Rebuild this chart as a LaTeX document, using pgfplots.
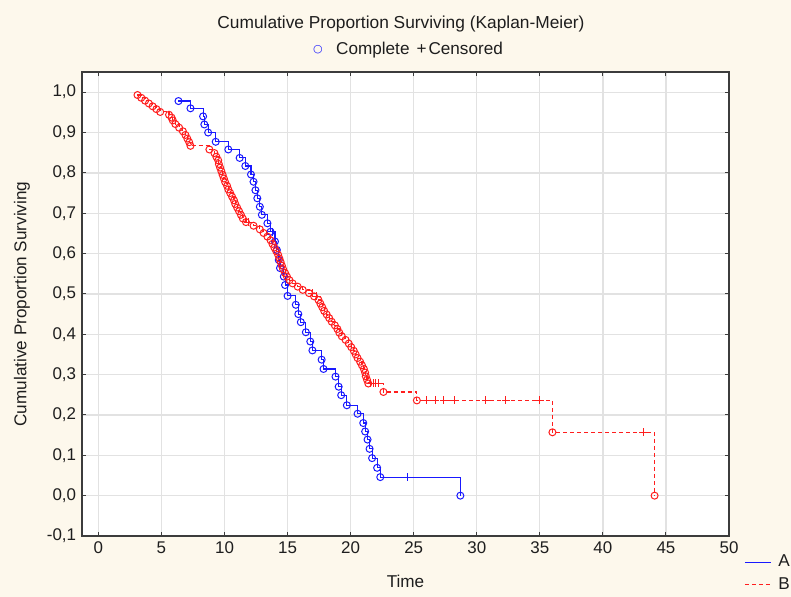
\documentclass[border=0pt]{standalone}
\usepackage{fontspec}
\setmainfont{Liberation Sans}
\newfontfamily\dejavu{DejaVu Sans}
\usepackage{pgfplots}
\usepackage{pgfplotstable}
\pgfplotsset{compat=1.18}
\definecolor{bgcream}{RGB}{253,248,236}
\definecolor{kmblue}{RGB}{25,25,255}
\definecolor{kmred}{RGB}{255,30,30}
\definecolor{gridgray}{RGB}{226,226,226}
\definecolor{framegray}{RGB}{60,60,60}
\definecolor{txt}{RGB}{30,30,30}

\pgfplotstableread{
x y t
6.35 0.978 e
7.3 0.960 e
8.3 0.940 e
8.4 0.920 e
8.7 0.900 e
9.3 0.877 e
10.3 0.858 e
11.2 0.837 e
11.65 0.817 e
12.1 0.796 e
12.3 0.778 e
12.45 0.757 e
12.6 0.737 e
12.8 0.716 e
12.96 0.696 e
13.4 0.675 e
13.65 0.654 e
13.8 0.654 c
14.0 0.630 e
14.15 0.609 e
14.3 0.584 e
14.4 0.564 e
14.7 0.543 e
14.8 0.522 e
15.0 0.495 e
15.65 0.473 e
15.85 0.450 e
16.05 0.430 e
16.45 0.405 e
16.8 0.382 e
16.97 0.360 e
17.7 0.337 e
17.85 0.314 e
18.8 0.295 e
19.05 0.270 e
19.25 0.249 e
19.7 0.224 e
20.55 0.203 e
21.0 0.180 e
21.15 0.159 e
21.34 0.139 e
21.5 0.116 e
21.7 0.093 e
22.1 0.069 e
22.35 0.046 e
24.5 0.046 c
28.7 0.000 e
}\dataA

\pgfplotstableread{
x y t
3.1 0.993 e
3.4 0.986 e
3.7 0.979 e
4.0 0.972 e
4.3 0.965 e
4.6 0.958 e
4.9 0.951 e
5.6 0.944 e
5.8 0.937 e
5.9 0.930 e
6.1 0.921 e
6.4 0.912 e
6.7 0.903 e
6.9 0.894 e
7.05 0.885 e
7.2 0.876 e
7.3 0.867 e
8.8 0.858 e
9.2 0.849 e
9.35 0.840 e
9.5 0.831 e
9.55 0.822 e
9.65 0.813 e
9.75 0.804 e
9.85 0.795 e
9.95 0.786 e
10.05 0.777 e
10.2 0.768 e
10.3 0.759 e
10.45 0.750 e
10.6 0.741 e
10.75 0.732 e
10.85 0.723 e
11.0 0.714 e
11.15 0.705 e
11.3 0.696 e
11.45 0.687 e
11.7 0.678 e
11.9 0.678 c
12.3 0.669 e
12.8 0.660 e
13.1 0.651 e
13.4 0.642 e
13.65 0.633 e
13.8 0.624 e
13.95 0.615 e
14.1 0.606 e
14.25 0.597 e
14.35 0.588 e
14.45 0.579 e
14.55 0.570 e
14.65 0.561 e
14.8 0.552 e
14.95 0.543 e
15.15 0.534 e
15.4 0.526 e
15.8 0.518 e
16.2 0.510 e
16.7 0.502 e
16.95 0.502 c
17.1 0.494 e
17.3 0.494 c
17.45 0.485 e
17.6 0.476 e
17.75 0.467 e
17.9 0.458 e
18.1 0.449 e
18.3 0.440 e
18.5 0.431 e
18.75 0.422 e
18.95 0.413 e
19.1 0.404 e
19.3 0.395 e
19.6 0.386 e
19.85 0.377 e
20.05 0.368 e
20.25 0.359 e
20.4 0.350 e
20.55 0.341 e
20.75 0.332 e
20.9 0.323 e
21.05 0.314 e
21.15 0.305 e
21.2 0.296 e
21.3 0.287 e
21.4 0.278 e
21.6 0.278 c
21.8 0.278 c
22.0 0.278 c
22.2 0.278 c
22.6 0.257 e
25.25 0.236 e
26.0 0.236 c
26.7 0.236 c
27.4 0.236 c
28.2 0.236 c
30.7 0.236 c
32.3 0.236 c
35.0 0.236 c
36.0 0.157 e
43.2 0.157 c
44.1 0.000 e
}\dataB

\begin{document}
\fontsize{17.2}{19.5}\selectfont
\begin{tikzpicture}
\useasboundingbox (0,0) rectangle (791bp,597bp);
\fill[bgcream] (0,0) rectangle (791bp,597bp);
\begin{axis}[
  at={(82bp,61bp)}, anchor=south west,
  scale only axis, width=647bp, height=464bp,
  xmin=-1.3, xmax=50, ymin=-0.1, ymax=1.05,
  xtick={0,5,10,15,20,25,30,35,40,45,50},
  ytick={-0.1,0,0.1,0.2,0.3,0.4,0.5,0.6,0.7,0.8,0.9,1.0},
  tick align=inside, major tick length=4bp,
  axis background/.style={fill=white},
  grid=major, major grid style={gridgray, line width=1.3bp},
  axis line style={framegray, line width=1.3bp},
  every tick/.style={framegray, line width=1bp},
  /pgf/number format/assume math mode=true,
  yticklabel style={/pgf/number format/.cd, fixed, fixed zerofill, precision=1, use comma},
  xticklabel style={/pgf/number format/.cd, fixed, precision=0},
  tick label style={font=\fontsize{17}{19}\selectfont, text=txt},
  label style={font=\fontsize{17.2}{19.5}\selectfont, text=txt},
  xlabel={Time},
  xlabel style={at={(axis description cs:0.5,-0.097)}, anchor=center},
  ylabel={Cumulative Proportion Surviving},
  ylabel style={at={(axis description cs:-0.0927,0.5)}, anchor=center, rotate=0},
  title={Cumulative Proportion Surviving (Kaplan-Meier)},
  title style={at={(axis description cs:0.493,1.0905)}, anchor=center, font=\fontsize{17.4}{19.5}\selectfont, text=txt},
  legend style={at={(axis description cs:1,0)}, anchor=north west, xshift=15bp, yshift=-17bp,
    draw=none, fill=none, inner sep=0pt, row sep=4bp, font=\fontsize{17.2}{19.5}\selectfont,
    text=txt, legend cell align=left},
  legend image code/.code={\draw[#1] (0bp,0bp) -- (26bp,0bp); \path (31bp,0bp);},
]
\addlegendimage{kmblue, line width=1.2bp}
\addlegendimage{kmred, line width=1.2bp, dash pattern=on 4bp off 3bp}

\addplot[kmblue, line width=1.1bp, const plot, mark size=3.5bp,
  scatter, scatter src=explicit symbolic,
  scatter/classes={e={mark=o, draw=kmblue, line width=1bp}, c={mark=+, draw=kmblue, line width=1bp, mark size=4bp}},
  forget plot]
  table[x=x, y=y, meta=t] {\dataA};

\addplot[kmred, line width=1.1bp, const plot, dash pattern=on 4bp off 3bp, mark size=3.5bp,
  mark options={solid},
  scatter, scatter src=explicit symbolic,
  scatter/classes={e={mark=o, draw=kmred, solid, line width=1bp}, c={mark=+, draw=kmred, solid, line width=1bp, mark size=4bp}},
  forget plot]
  table[x=x, y=y, meta=t] {\dataB};

\legend{A,B}
\end{axis}
\node[anchor=center, text=kmblue, font=\dejavu\fontsize{11}{11}\selectfont] at (318bp,547bp) {○};
\node[anchor=west, text=txt, inner sep=0pt] at (336bp,547bp) {Complete\hspace{7bp}+\hspace{2bp}Censored};
\end{tikzpicture}
\end{document}
